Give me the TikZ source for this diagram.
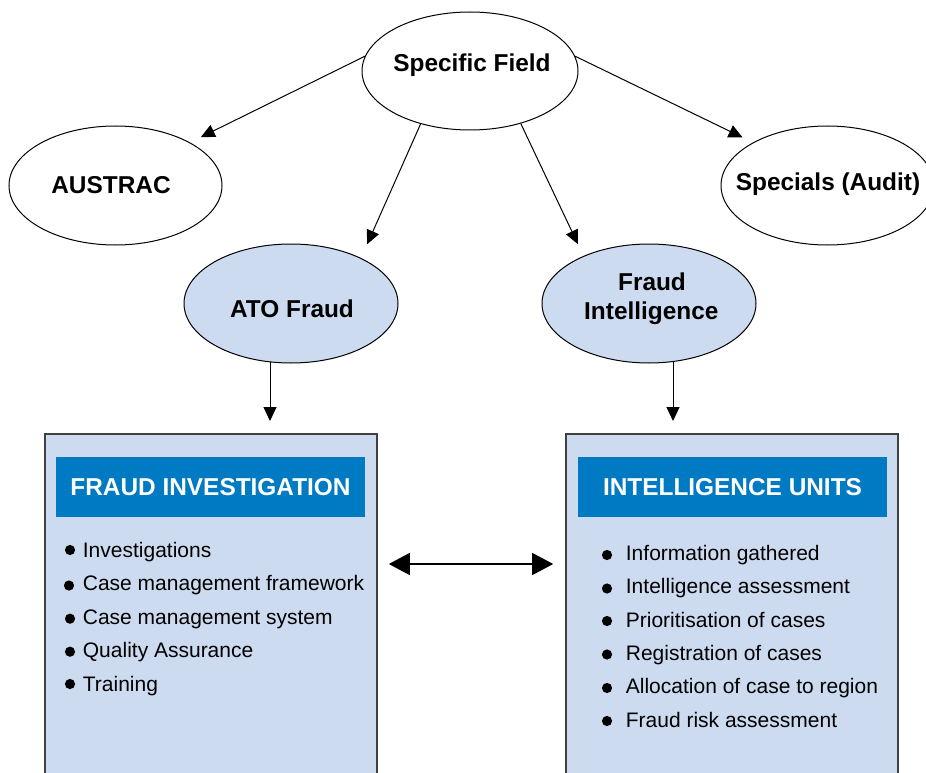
\documentclass[tikz,border=0pt]{standalone}
\usepackage{fontspec}
\setmainfont{Liberation Sans}
\usetikzlibrary{arrows.meta,shapes.geometric}
\definecolor{lblue}{RGB}{205,219,240}
\definecolor{hblue}{RGB}{0,122,194}
\definecolor{bordergray}{RGB}{64,64,64}
\begin{document}
\begin{tikzpicture}[x=1pt,y=-1pt,
  oval/.style={ellipse, draw=black, line width=1pt, inner sep=0pt},
  whiteoval/.style={oval, fill=white},
  blueoval/.style={oval, fill=lblue},
  lbl/.style={font=\fontsize{24.4pt}{29pt}\selectfont\bfseries, anchor=base, inner sep=0pt},
  itm/.style={font=\fontsize{21pt}{25pt}\selectfont, anchor=base west, inner sep=0pt},
  dot/.style={circle, fill=black, minimum size=10.2pt, inner sep=0pt},
  panel/.style={rectangle, draw=bordergray, line width=1.6pt, fill=lblue, minimum width=332pt, minimum height=380pt, anchor=north, inner sep=0pt},
  header/.style={rectangle, fill=hblue, text=white, minimum width=309pt, minimum height=60pt, inner sep=0pt, font=\fontsize{24.4pt}{29pt}\selectfont\bfseries},
  arr/.style={-{Triangle[length=14pt,width=13pt]}, line width=1pt},
  darr/.style={{Triangle[length=21pt,width=22pt]}-{Triangle[length=21pt,width=22pt]}, line width=1.3pt}
]
\clip (0,0) rectangle (926,773);
\fill[white] (0,0) rectangle (926,773);

% ellipses
\node[whiteoval, minimum width=216pt, minimum height=118pt] (sf) at (470,71) {};
\node[whiteoval, minimum width=213pt, minimum height=119pt] (austrac) at (115.5,185.5) {};
\node[whiteoval, minimum width=213pt, minimum height=119pt] (specials) at (827.5,185.5) {};
\node[blueoval, minimum width=214pt, minimum height=119pt] (ato) at (291,303.5) {};
\node[blueoval, minimum width=214pt, minimum height=119pt] (fi) at (649,303.5) {};

\node[lbl] (sft) at (472,72) {Specific Field};
\node[lbl] (austract) at (111,193) {AUSTRAC};
\node[lbl] (specialst) at (828,190.5) {Specials (Audit)};
\node[lbl] (atot) at (292,317) {ATO Fraud};
\node[lbl] (fit1) at (652,290) {Fraud};
\node[lbl] (fit2) at (651.3,319) {Intelligence};

% top arrows
\draw[arr, shorten >=12pt] (sf.172) -- (austrac.30);
\draw[arr, shorten >=15pt] (sf.227.7) -- (ato.33);
\draw[arr, shorten >=13pt] (sf.314) -- (fi.144.8);
\draw[arr, shorten >=11.5pt] (sf.8.4) -- (specials.150);

% panels
\node[panel] (fibox) at (211,433) {};
\node[panel] (iubox) at (732,433) {};
\node[header] (fihead) at (210.5,487) {FRAUD INVESTIGATION};
\node[header] (iuhead) at (732.5,487) {INTELLIGENCE UNITS};

% vertical arrows
\coordinate (atoleg) at ([shift={(-21pt,1.5pt)}]ato.south);
\coordinate (fileg) at ([shift={(24pt,1.5pt)}]fi.south);
\draw[arr, shorten >=12pt] (atoleg) -- (atoleg |- fibox.north);
\draw[arr, shorten >=12pt] (fileg) -- (fileg |- iubox.north);

% double arrow
\coordinate (mid) at (0,564);
\draw[darr, shorten <=11pt, shorten >=12pt] (fibox.east |- mid) -- (iubox.west |- mid);

% left items
\node[dot] (lb1) at (70,550) {};
\node[dot] (lb2) at (69,585.5) {};
\node[dot] (lb3) at (70,618.7) {};
\node[dot] (lb4) at (70,651.7) {};
\node[dot] (lb5) at (70,684) {};
\node[itm] (li1) at (82.7,557.3) {Investigations};
\node[itm] (li2) at (82.7,590.7) {Case management framework};
\node[itm] (li3) at (82.7,624.1) {Case management system};
\node[itm] (li4) at (82.7,657.5) {Quality Assurance};
\node[itm] (li5) at (82.7,691) {Training};

% right items
\node[dot] (rb1) at (607,555) {};
\node[dot] (rb2) at (607,588.5) {};
\node[dot] (rb3) at (607,621) {};
\node[dot] (rb4) at (607,654.5) {};
\node[dot] (rb5) at (607,688) {};
\node[dot] (rb6) at (607,721) {};
\node[itm] (ri1) at (625.7,560) {Information gathered};
\node[itm] (ri2) at (625.7,593.5) {Intelligence assessment};
\node[itm] (ri3) at (625.7,627) {Prioritisation of cases};
\node[itm] (ri4) at (625.7,660) {Registration of cases};
\node[itm] (ri5) at (625.7,693.5) {Allocation of case to region};
\node[itm] (ri6) at (625.7,727) {Fraud risk assessment};
\end{tikzpicture}
\end{document}
